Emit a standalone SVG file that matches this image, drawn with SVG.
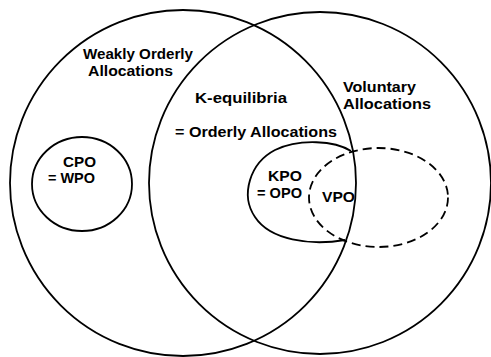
<svg xmlns="http://www.w3.org/2000/svg" width="491" height="357" viewBox="0 0 491 357">
<style>
.s{fill:none;stroke:#000;stroke-width:1.8}
.d{fill:none;stroke:#000;stroke-width:1.8;stroke-dasharray:9 5}
text{font-family:"Liberation Sans",Arial,sans-serif;font-weight:bold;font-size:15px;fill:#000}
.sm{font-size:14px}
</style>
<rect width="491" height="357" fill="#fff"/>
<g id="weakly-orderly">
<circle class="s" cx="183" cy="183" r="173"/>
<text x="83" y="59" textLength="110" lengthAdjust="spacingAndGlyphs">Weakly Orderly</text>
<text x="88" y="76" textLength="85" lengthAdjust="spacingAndGlyphs">Allocations</text>
</g>
<g id="voluntary">
<circle class="s" cx="320" cy="183" r="171"/>
<text x="343" y="92" textLength="73" lengthAdjust="spacingAndGlyphs">Voluntary</text>
<text x="343" y="109" textLength="88" lengthAdjust="spacingAndGlyphs">Allocations</text>
</g>
<g id="k-equilibria">
<text x="195" y="103" textLength="92" lengthAdjust="spacingAndGlyphs">K-equilibria</text>
<text x="175" y="137" textLength="162" lengthAdjust="spacingAndGlyphs">= Orderly Allocations</text>
</g>
<g id="cpo">
<ellipse class="s" cx="82" cy="184" rx="50" ry="47"/>
<text x="63" y="167" textLength="33" lengthAdjust="spacingAndGlyphs">CPO</text>
<text x="48" y="183" textLength="47" lengthAdjust="spacingAndGlyphs">= WPO</text>
</g>
<g id="kpo">
<path class="s" d="M 351 151 C 335 141, 300 138, 275 150 C 250 163, 240 195, 255 217 C 270 240, 310 246, 345 240"/>
<text class="sm" x="268" y="181" textLength="34" lengthAdjust="spacingAndGlyphs">KPO</text>
<text class="sm" x="257" y="198" textLength="45" lengthAdjust="spacingAndGlyphs">= OPO</text>
</g>
<g id="vpo">
<ellipse class="d" cx="378.5" cy="197.5" rx="69.5" ry="49.5"/>
<text class="sm" x="322" y="202" textLength="33" lengthAdjust="spacingAndGlyphs">VPO</text>
</g>
<g id="connectors"></g>
</svg>
